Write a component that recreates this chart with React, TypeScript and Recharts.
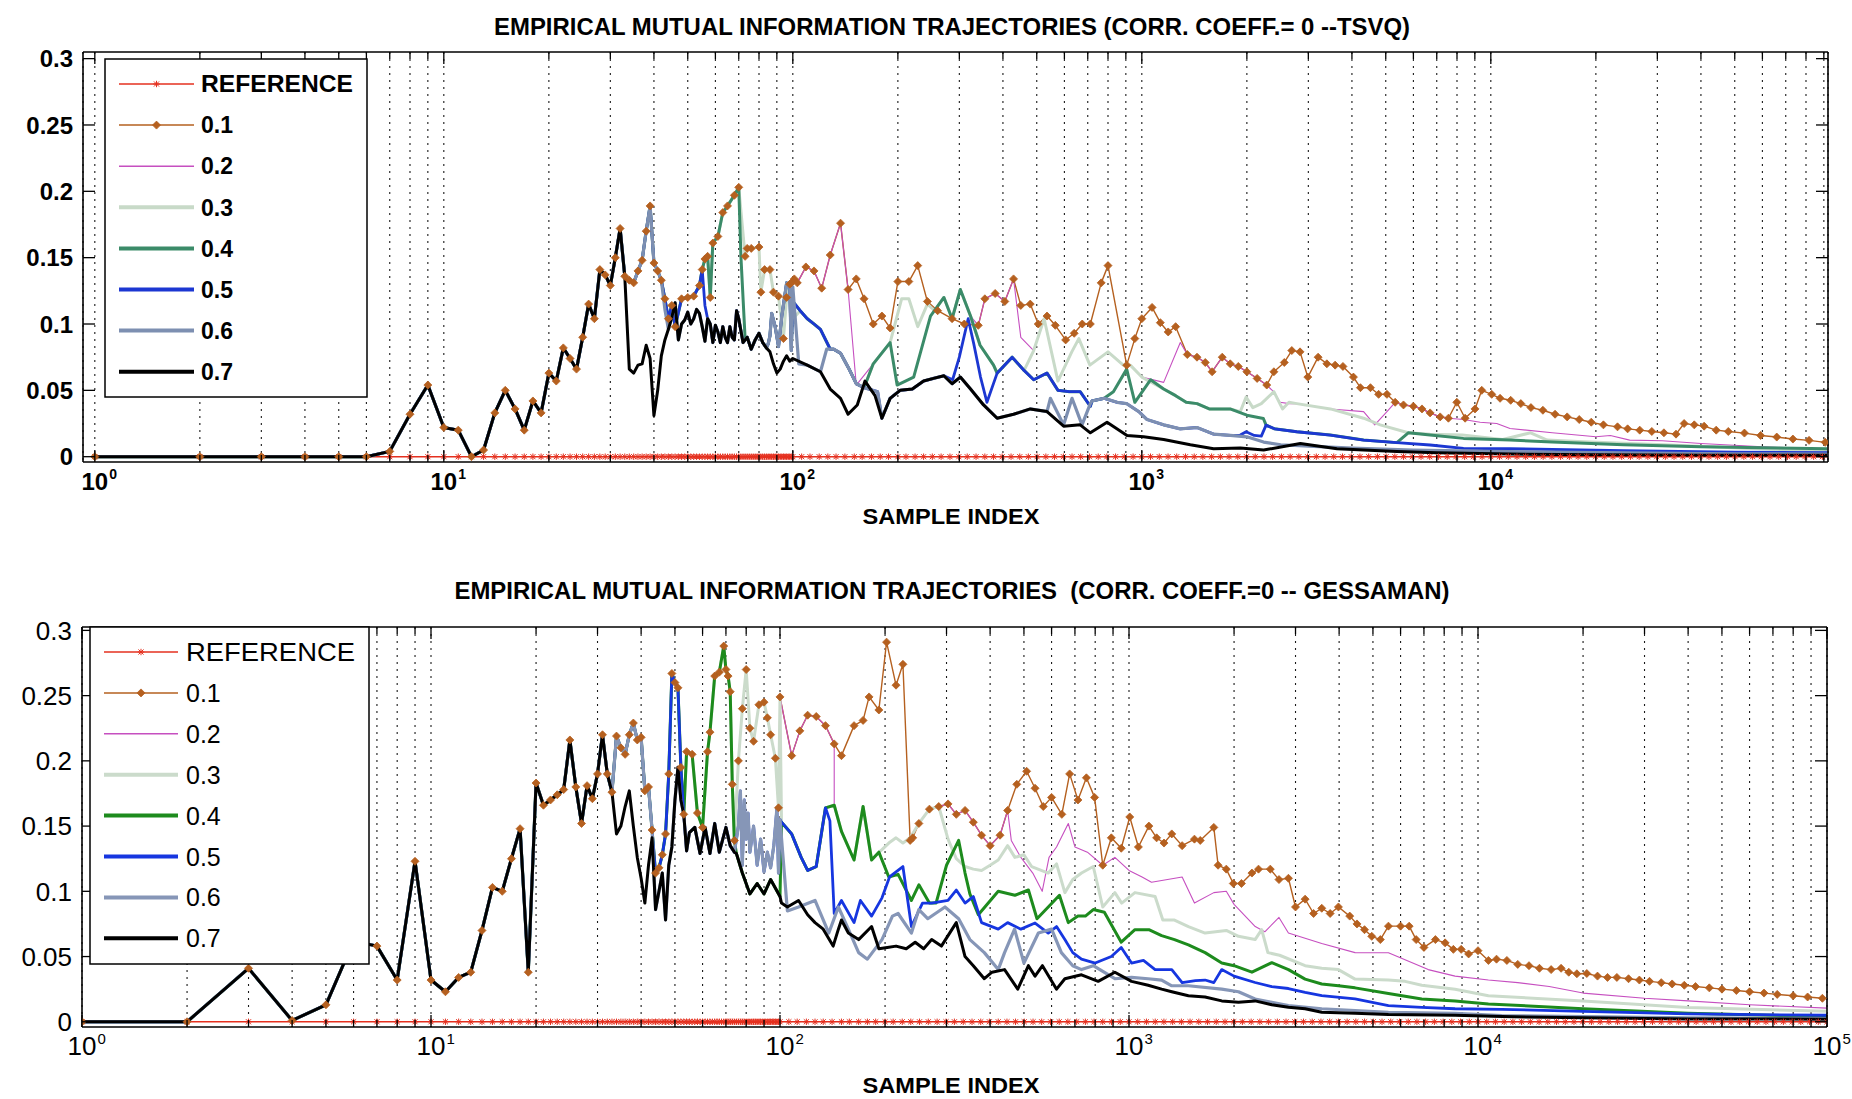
import React from 'react';
import { LineChart, Line, XAxis, YAxis, CartesianGrid } from 'recharts';

type P = [number, number];

const W = 1852;
const FONT = '"Liberation Sans", Arial, Helvetica, sans-serif';

// ---------- shared axis data ----------
const X_TICKS: number[] = [
  1, 2, 3, 4, 5, 6, 7, 8, 9,
  10, 20, 30, 40, 50, 60, 70, 80, 90,
  100, 200, 300, 400, 500, 600, 700, 800, 900,
  1000, 2000, 3000, 4000, 5000, 6000, 7000, 8000, 9000,
  10000, 20000, 30000, 40000, 50000, 60000, 70000, 80000, 90000,
  100000,
];
const Y_TICKS = [0, 0.05, 0.1, 0.15, 0.2, 0.25, 0.3];
const Y_LABELS = ['0', '0.05', '0.1', '0.15', '0.2', '0.25', '0.3'];
const LEGEND_NAMES = ['REFERENCE', '0.1', '0.2', '0.3', '0.4', '0.5', '0.6', '0.7'];

// sample indices of the reference (independent) trajectory, whose value is 0
const REF_X: number[] = [
  1, 2, 3, 4, 5, 6, 7, 8, 9, 10, 11, 12, 13, 14, 15, 16, 17, 18, 19, 20,
  21, 22, 23, 24, 25, 26, 27, 28, 29, 30, 31, 32, 33, 34, 35, 36, 37, 38, 39, 40,
  41, 42, 43, 44, 45, 46, 47, 48, 49, 50, 51, 52, 53, 54, 55, 56, 57, 58, 59, 60,
  61, 62, 63, 64, 65, 66, 67, 68, 69, 70, 71, 72, 73, 74, 75, 76, 77, 78, 79, 80,
  81, 82, 83, 84, 85, 86, 87, 88, 89, 90, 91, 92, 93, 94, 95, 96, 97, 98, 99, 100,
  106, 112, 119, 126, 133, 141, 150, 158, 168, 178, 188, 200, 211, 224, 237, 251, 266, 282, 299, 316,
  335, 355, 376, 398, 422, 447, 473, 501, 531, 562, 596, 631, 668, 708, 750, 794, 841, 891, 944,
  1000, 1059, 1122, 1189, 1259, 1334, 1413, 1496, 1585, 1679, 1778, 1884, 1995, 2113, 2239, 2371, 2512, 2661, 2818, 2985,
  3162, 3350, 3548, 3758, 3981, 4217, 4467, 4732, 5012, 5309, 5623, 5957, 6310, 6683, 7079, 7499, 7943, 8414, 8913, 9441,
  10000, 10593, 11220, 11885, 12589, 13335, 14125, 14962, 15849, 16788, 17783, 18836, 19953, 21135, 22387, 23714, 25119, 26607, 28184, 29854,
  31623, 33497, 35481, 37584, 39811, 42170, 44668, 47315, 50119, 53088, 56234, 59566, 63096, 66834, 70795, 74989, 79433, 84140, 89125, 94406, 100000,
];
const REF_VALUE = 0;

// ---------- TOP PANEL (TSVQ) trajectory segments ----------
const T_COMMON: P[] = [[1,0],[2,0],[3,0],[4,0],[5,0],[6,0],[7,0.004],[8,0.032],[9,0.054],[10,0.022],[11,0.02],[12,0],[13,0.005],[14,0.033],[15,0.05],[16,0.036],[17,0.02],[18,0.042],[19,0.033],[20,0.063],[21,0.057],[22,0.082],[23,0.074],[24,0.066],[25,0.09],[26,0.115],[27,0.104],[28,0.141],[29,0.137],[30,0.129],[31,0.15],[32,0.172],[33,0.136]];
const T_K1: P[] = [[34,0.066],[35,0.063],[36,0.069],[37,0.07],[38,0.084],[39,0.074],[40,0.031],[41,0.05],[42,0.076],[43,0.088]];
const T_K2: P[] = [[44,0.096],[45,0.105],[46,0.116],[47,0.088],[48,0.1],[49,0.103],[50,0.109],[51,0.1],[52,0.104],[53,0.111],[54,0.108],[55,0.098],[56,0.087]];
const T_K3A: P[] = [[57,0.104],[58,0.1],[59,0.086],[60,0.099],[61,0.094],[62,0.086],[63,0.098],[64,0.09],[65,0.086],[66,0.098],[67,0.09],[68,0.088],[69,0.11],[70,0.104],[72,0.086]];
const T_K3B: P[] = [[74,0.09],[76,0.081],[78,0.088],[80,0.093],[82,0.086],[84,0.082]];
const T_K4: P[] = [[86,0.079],[88,0.07],[90,0.063],[92,0.066],[94,0.072],[96,0.076],[98,0.072],[100,0.074]];
const T_K5: P[] = [[110,0.069],[120,0.064],[128,0.051],[137,0.044],[144,0.032],[153,0.039],[161,0.057],[172,0.046]];
const T_K6A: P[] = [[180,0.029],[190,0.044],[203,0.05],[220,0.051],[237,0.057],[253,0.059],[271,0.061]];
const T_K6B: P[] = [[286,0.055],[302,0.06],[323,0.051],[352,0.039],[385,0.029],[429,0.032],[479,0.036],[535,0.034]];
const T_K7: P[] = [[597,0.023],[666,0.024],[712,0.018],[795,0.026],[907,0.016],[1012,0.015],[1155,0.013],[1377,0.009],[1606,0.006],[1915,0.0065],[2234,0.005],[2846,0.01],[3624,0.006],[4322,0.005],[5387,0.004],[7000,0.003],[11370,0.002],[20000,0.0015],[40000,0.001],[92000,0.001]];
const T_G6A: P[] = [[34,0.133],[35,0.131],[36,0.14],[37,0.148],[38,0.17],[39,0.189],[40,0.146],[41,0.14],[42,0.133]];
const T_G6A2: P[] = [[43,0.111]];
const T_G6B: P[] = [[85,0.085],[86,0.091],[87,0.108],[89,0.098],[91,0.083],[93,0.106],[96,0.131],[98,0.127],[99,0.08]];
const T_G6B2: P[] = [[100,0.128]];
const T_G6C: P[] = [[104,0.07],[110,0.069],[120,0.064],[125,0.081]];
const T_GP: P[] = [[131,0.081],[137,0.078],[145,0.066],[152,0.055],[160,0.052]];
const T_GP2: P[] = [[175,0.049]];
const T_G6W: P[] = [[547,0.044],[597,0.024],[631,0.044],[674,0.024],[712,0.04]];
const T_G6TA: P[] = [[720,0.042],[780,0.044]];
const T_G6TB: P[] = [[850,0.041],[905,0.04],[980,0.034],[1035,0.028],[1155,0.024],[1289,0.021],[1439,0.022],[1606,0.017],[1792,0.016]];
const T_G6U: P[] = [[2000,0.015],[2233,0.011],[2500,0.009],[3000,0.008],[4000,0.0065],[6000,0.005],[10000,0.004],[20000,0.003],[50000,0.0022],[92000,0.002]];
const T_B5A: P[] = [[43,0.119],[44,0.104],[45,0.114],[46,0.098],[48,0.119],[50,0.12],[52,0.121],[54,0.129],[55,0.141]];
const T_B5A2: P[] = [[56,0.114]];
const T_B5_100: P[] = [[100,0.117]];
const T_B5B: P[] = [[105,0.11],[110,0.104],[115,0.1],[120,0.096],[128,0.081]];
const T_B5CA: P[] = [[287,0.058],[300,0.075],[318,0.104],[330,0.085],[345,0.06],[360,0.041],[385,0.063]];
const T_B5CB: P[] = [[425,0.075],[460,0.065]];
const T_B5CC: P[] = [[490,0.058],[535,0.063],[575,0.05],[620,0.049],[666,0.049],[712,0.038]];
const T_B5DA: P[] = [[1915,0.0163],[1990,0.0188],[2100,0.016],[2200,0.0155]];
const T_B5DB: P[] = [[2270,0.0238],[2400,0.021],[2780,0.0188],[3470,0.0163],[4320,0.0125],[5380,0.0106]];
const T_B5DC: P[] = [[6700,0.0088],[8350,0.0063],[11350,0.006],[24000,0.0045],[50000,0.0035],[92000,0.003]];
const T_G4A: P[] = [[56,0.149],[57,0.151],[58,0.12],[59,0.161],[61,0.166],[63,0.184],[65,0.189],[68,0.197],[70,0.203]];
const T_G4A2: P[] = [[71,0.151],[73,0.089]];
const T_G4B: P[] = [[170,0.07],[190,0.086]];
const T_G4B2: P[] = [[199,0.054],[222,0.06],[248,0.106]];
const T_G4CA: P[] = [[271,0.12],[286,0.104],[302,0.126],[323,0.106]];
const T_G4CB: P[] = [[344,0.084],[376,0.069],[385,0.063]];
const T_G4D: P[] = [[829,0.049],[905,0.066],[955,0.041],[1060,0.058]];
const T_G4E: P[] = [[1155,0.051],[1250,0.046],[1340,0.041],[1440,0.04],[1560,0.036],[1790,0.036]];
const T_G4F: P[] = [[2000,0.0313],[2230,0.0288]];
const T_G4G: P[] = [[5800,0.018],[6700,0.0163],[8350,0.0138],[11350,0.0125],[15000,0.011],[24000,0.009],[40000,0.0075],[92000,0.006]];
const T_L3A: P[] = [[73,0.151],[74,0.157],[76,0.157],[80,0.158],[81,0.124],[83,0.141],[86,0.141],[88,0.124],[91,0.121],[94,0.089],[96,0.12],[98,0.13]];
const T_L3A2: P[] = [[100,0.104]];
const T_L3B: P[] = [[205,0.119],[215,0.119],[228,0.098],[243,0.115],[255,0.11]];
const T_L3C: P[] = [[490,0.08],[525,0.104],[575,0.057],[630,0.079],[660,0.089],[710,0.069],[800,0.079],[885,0.069],[927,0.069],[1000,0.06]];
const T_L3DA: P[] = [[1915,0.034],[1990,0.045],[2080,0.037],[2200,0.04],[2390,0.049],[2530,0.036],[2640,0.041]];
const T_L3DB: P[] = [[2780,0.04],[3470,0.036]];
const T_L3DC: P[] = [[4320,0.029],[4820,0.024],[5800,0.018],[6700,0.017],[8280,0.0163],[10810,0.013],[13000,0.018],[14500,0.0125],[18400,0.0113],[31330,0.009],[53300,0.0063],[92000,0.0043]];
const T_M2A: P[] = [[99,0.131],[101,0.134],[103,0.131],[109,0.143],[115,0.14],[121,0.127],[128,0.152],[137,0.176],[144,0.126]];
const T_M2A2: P[] = [[152,0.054]];
const T_M2B: P[] = [[340,0.099],[355,0.119],[380,0.123],[405,0.117],[429,0.134]];
const T_M2B2: P[] = [[450,0.09]];
const T_M2C: P[] = [[1155,0.056],[1289,0.086]];
const T_MB1: P[] = [[1350,0.077],[1439,0.075],[1520,0.071],[1590,0.064],[1700,0.075],[1792,0.07],[1890,0.068],[2000,0.064],[2140,0.059],[2280,0.054]];
const T_M2D: P[] = [[2390,0.0488],[2490,0.041],[2640,0.04]];
const T_M2E: P[] = [[4320,0.034],[4650,0.024],[5040,0.034]];
const T_MB2: P[] = [[5320,0.041],[5620,0.039],[6000,0.038],[6350,0.036],[6700,0.033],[7160,0.03],[7560,0.029]];
const T_M2F: P[] = [[8350,0.028],[9320,0.026],[10400,0.025],[11350,0.0213],[15000,0.018],[20000,0.015],[22000,0.016],[25000,0.0125],[31000,0.012],[40000,0.01],[60000,0.0075],[92000,0.0055]];
const T_BR1: P[] = [[152,0.134],[160,0.119],[170,0.1],[180,0.106],[190,0.097],[200,0.132],[215,0.132],[228,0.144],[243,0.117],[260,0.11],[286,0.104],[310,0.1]];
const T_BR2: P[] = [[450,0.114],[479,0.115],[505,0.1],[535,0.106],[565,0.099],[605,0.088],[640,0.093],[675,0.1],[712,0.1],[765,0.131],[800,0.144],[905,0.069],[955,0.089],[1000,0.104],[1070,0.1125],[1130,0.101],[1190,0.094],[1250,0.098]];
const T_BR3: P[] = [[2390,0.064],[2560,0.071],[2690,0.08],[2840,0.079],[2990,0.06],[3200,0.075],[3390,0.07],[3580,0.069],[3770,0.068],[4040,0.06],[4230,0.052],[4520,0.052],[4770,0.047],[5040,0.047]];
const T_BR4: P[] = [[7990,0.041],[8440,0.029],[9010,0.036],[9420,0.05],[10060,0.047],[10630,0.044],[11400,0.0425],[12190,0.04],[13030,0.037],[14100,0.035],[15280,0.032],[16550,0.03],[17920,0.028],[19400,0.026],[21020,0.024],[23070,0.0225],[24660,0.021],[26710,0.02],[28930,0.019],[31330,0.018],[33930,0.017],[35800,0.025],[38280,0.024],[40850,0.023],[44240,0.02],[47910,0.019],[53300,0.0178],[59300,0.016],[65960,0.0148],[73380,0.0133],[81630,0.0123],[90810,0.0108]];

const TOP_TRAJ: P[][][] = [
  [T_COMMON, T_G6A, T_B5A, T_G4A, T_L3A, T_M2A, T_BR1, T_M2B, T_BR2, T_MB1, T_BR3, T_MB2, T_BR4],
  [T_COMMON, T_G6A, T_B5A, T_G4A, T_L3A, T_M2A, T_M2A2, T_G4B, T_L3B, T_G4CA, T_M2B, T_M2B2, T_L3C, T_M2C, T_MB1, T_M2D, T_L3DB, T_M2E, T_MB2, T_M2F],
  [T_COMMON, T_G6A, T_B5A, T_G4A, T_L3A, T_L3A2, T_B5B, T_GP, T_G4B, T_L3B, T_G4CA, T_G4CB, T_B5CB, T_L3C, T_G4E, T_L3DA, T_L3DB, T_L3DC],
  [T_COMMON, T_G6A, T_B5A, T_G4A, T_G4A2, T_K3B, T_G6B, T_B5_100, T_B5B, T_GP, T_G4B, T_G4B2, T_G4CA, T_G4CB, T_B5CB, T_B5CC, T_G6TA, T_G4D, T_G4E, T_G4F, T_B5DB, T_G4G],
  [T_COMMON, T_G6A, T_B5A, T_B5A2, T_K3A, T_K3B, T_G6B, T_B5_100, T_B5B, T_GP, T_GP2, T_K6A, T_B5CA, T_B5CB, T_B5CC, T_G6TA, T_G6TB, T_B5DA, T_B5DB, T_B5DC],
  [T_COMMON, T_G6A, T_G6A2, T_K2, T_K3A, T_K3B, T_G6B, T_G6B2, T_G6C, T_GP, T_GP2, T_K6A, T_K6B, T_G6W, T_G6TA, T_G6TB, T_G6U],
  [T_COMMON, T_K1, T_K2, T_K3A, T_K3B, T_K4, T_K5, T_K6A, T_K6B, T_K7],
];

// ---------- BOTTOM PANEL (GESSAMAN) trajectory segments ----------
const B_COMMON: P[] = [[1,0],[2,0],[3,0.041],[4,0.001],[5,0.013],[6,0.062],[7,0.058],[8,0.032],[9,0.123],[10,0.032],[11,0.023],[12,0.034],[13,0.038],[14,0.07],[15,0.103],[16,0.1],[17,0.125],[18,0.148],[19,0.038],[20,0.183],[21,0.166],[22,0.17],[23,0.174],[24,0.178],[25,0.216],[26,0.18],[27,0.152],[28,0.181],[29,0.171],[30,0.19],[31,0.22],[32,0.19],[33,0.176]];
const B_K1A: P[] = [[34,0.144],[35,0.15],[36,0.165],[37,0.177],[38,0.15],[39,0.126],[40,0.11],[41,0.091],[42,0.12],[43,0.141]];
const B_K1B: P[] = [[44,0.086],[45,0.1],[46,0.114],[47,0.078],[48,0.12],[49,0.134],[50,0.17],[51,0.195],[52,0.17],[53,0.159]];
const B_K1C: P[] = [[54,0.131],[55,0.145],[57,0.149],[59,0.129],[61,0.149],[63,0.129],[65,0.152],[67,0.13],[70,0.149],[72,0.135],[74,0.13]];
const B_K1D: P[] = [[75,0.129],[78,0.114],[82,0.098],[86,0.106],[90,0.098],[94,0.109],[100,0.096]];
const B_K2: P[] = [[101,0.091],[105,0.088],[113,0.093],[120,0.082],[126,0.076],[133,0.071],[142,0.058],[147,0.071],[150,0.078],[157,0.068],[168,0.063],[183,0.073],[192,0.056],[203,0.057],[215,0.058],[230,0.056],[244,0.061],[258,0.056],[272,0.063],[290,0.058],[320,0.076],[339,0.05],[358,0.043],[385,0.033],[405,0.038],[440,0.04],[480,0.025],[515,0.043],[538,0.035],[565,0.043],[620,0.025],[655,0.033],[731,0.036],[816,0.031],[911,0.038],[1017,0.031],[1135,0.028],[1240,0.025],[1326,0.023],[1480,0.02],[1652,0.019],[1844,0.016],[2059,0.015],[2298,0.016],[2565,0.013],[2863,0.0112],[3196,0.01],[3567,0.0073],[4444,0.0065],[5538,0.0055],[8596,0.005],[11700,0.004],[20000,0.003],[40000,0.0022],[100000,0.002]];
const B_G6A: P[] = [[34,0.219],[35,0.21],[36,0.205],[37,0.22],[38,0.229],[39,0.216],[40,0.218],[41,0.177],[42,0.18],[43,0.147]];
const B_G6B: P[] = [[76,0.15],[77,0.177],[78,0.12],[79,0.17],[80,0.14],[81,0.16],[82,0.13],[84,0.15],[86,0.12],[88,0.14],[90,0.115],[92,0.13],[94,0.118],[96,0.135],[98,0.164],[99,0.114],[100,0.155]];
const B_G6C: P[] = [[105,0.085],[113,0.088],[126,0.093],[138,0.068],[147,0.088],[157,0.071],[168,0.053],[178,0.048],[196,0.063],[210,0.081],[218,0.083],[238,0.068],[250,0.086],[265,0.079],[297,0.088],[325,0.079],[350,0.063],[385,0.053],[422,0.04],[440,0.053],[470,0.071],[500,0.045],[550,0.068],[600,0.071],[640,0.053],[690,0.043],[731,0.04],[790,0.043],[911,0.033],[1017,0.034],[1135,0.033],[1240,0.032],[1326,0.0276],[1480,0.0276],[1844,0.025],[2059,0.023],[2298,0.0175],[2565,0.015],[2863,0.0124],[3567,0.01],[5538,0.0073],[8596,0.0065],[11700,0.0048],[20000,0.004],[40000,0.003],[100000,0.0025]];
const B_B5A: P[] = [[44,0.114],[45,0.118],[46,0.128],[47,0.144],[48,0.19],[49,0.267],[50,0.26],[51,0.256],[52,0.195],[53,0.159]];
const B_B5BH: P[] = [[101,0.153],[108,0.144],[115,0.126],[120,0.116],[127,0.119],[135,0.164]];
const B_B5BT: P[] = [[139,0.154],[143,0.083],[150,0.093],[163,0.076],[170,0.093],[183,0.081],[196,0.095],[206,0.111],[225,0.119],[238,0.073],[256,0.091],[272,0.091],[303,0.093],[320,0.101],[339,0.091],[358,0.096],[378,0.076],[422,0.071],[449,0.076],[490,0.071],[538,0.0757],[587,0.068],[620,0.073],[655,0.063],[690,0.053],[731,0.048],[800,0.045],[890,0.05],[950,0.057],[1017,0.045],[1100,0.047],[1188,0.04],[1326,0.04],[1420,0.03],[1550,0.0315],[1652,0.032],[1750,0.03],[1844,0.04],[2000,0.035],[2298,0.0301],[2565,0.027],[2863,0.0255],[3196,0.0226],[3567,0.02],[4444,0.0175],[5538,0.0124],[6900,0.011],[8596,0.01],[11700,0.0095],[20000,0.008],[40000,0.006],[100000,0.005]];
const B_G4A: P[] = [[54,0.207],[56,0.205],[58,0.16],[60,0.149],[62,0.207],[63,0.222],[65,0.265],[67,0.268],[69,0.288],[70,0.27],[71,0.265],[72,0.253],[73,0.182],[74,0.139]];
const B_G4BH: P[] = [[143,0.166],[150,0.146],[163,0.124],[173,0.165],[183,0.124],[192,0.13]];
const B_G4BT: P[] = [[205,0.111],[218,0.113],[238,0.093],[250,0.105],[268,0.091],[280,0.091],[300,0.12],[325,0.139],[339,0.114],[350,0.098],[370,0.082],[422,0.1],[471,0.097],[515,0.101],[545,0.079],[587,0.088],[632,0.097],[670,0.076],[714,0.081],[750,0.081],[790,0.086],[850,0.084],[950,0.061],[1040,0.0706],[1140,0.0706],[1240,0.066],[1350,0.063],[1480,0.059],[1652,0.053],[1844,0.045],[2000,0.043],[2250,0.038],[2565,0.0453],[2863,0.04],[3196,0.0327],[3567,0.029],[3982,0.0276],[4444,0.026],[5538,0.0216],[6900,0.0175],[8596,0.016],[10711,0.0137],[20000,0.01],[40000,0.0065],[100000,0.004]];
const B_L3A: P[] = [[76,0.2],[78,0.24],[80,0.27],[82,0.225],[84,0.215],[87,0.243],[90,0.245],[92,0.233],[94,0.22],[97,0.202],[99,0.164],[100,0.249]];
const B_L3B: P[] = [[196,0.132],[205,0.137],[215,0.141],[225,0.137],[236,0.141]];
const B_LM: P[] = [[250,0.152],[268,0.163],[285,0.165]];
const B_L3C: P[] = [[303,0.14],[320,0.125],[339,0.119],[358,0.117],[378,0.116],[400,0.12],[422,0.124],[449,0.135],[471,0.126],[500,0.128],[526,0.119],[587,0.114],[620,0.121],[655,0.099],[690,0.109],[731,0.114],[790,0.119],[841,0.088],[911,0.099],[953,0.091],[1040,0.099],[1188,0.096],[1250,0.078],[1350,0.078],[1480,0.073],[1652,0.068],[1900,0.07],[2059,0.0655],[2298,0.063],[2400,0.0706],[2500,0.053],[2700,0.051],[3196,0.043],[3567,0.041],[3982,0.04],[4444,0.0327],[5538,0.032],[6181,0.031],[6900,0.028],[8596,0.025],[10711,0.02],[20000,0.016],[40000,0.011],[100000,0.008]];
const B_M2A: P[] = [[108,0.204],[114,0.223],[120,0.235],[127,0.234],[135,0.227],[143,0.213]];
const B_MB: P[] = [[303,0.167],[320,0.159],[339,0.162],[358,0.153],[378,0.143],[400,0.135],[427,0.143],[449,0.162]];
const B_M2C: P[] = [[460,0.139],[490,0.126],[530,0.114],[564,0.1],[590,0.126],[620,0.134],[670,0.152],[700,0.134],[760,0.13],[841,0.12],[911,0.126],[1000,0.116],[1090,0.111],[1160,0.107],[1420,0.111],[1540,0.091],[1750,0.099],[1900,0.1],[2000,0.09],[2300,0.073],[2450,0.069],[2690,0.08],[2863,0.068],[3567,0.06],[4444,0.053],[5538,0.0529],[7200,0.04],[8596,0.035],[10711,0.032],[13000,0.03],[16000,0.027],[20000,0.022],[30000,0.018],[40000,0.016],[60000,0.013],[100000,0.0105]];
const B_BR1: P[] = [[150,0.204],[163,0.227],[173,0.231],[180,0.249],[192,0.239],[202,0.291],[215,0.258],[225,0.274],[236,0.139],[240,0.141]];
const B_BR2: P[] = [[477,0.182],[509,0.192],[538,0.179],[568,0.165],[600,0.172],[642,0.159],[676,0.19],[714,0.17],[755,0.187],[797,0.172],[841,0.12],[890,0.141],[950,0.133],[1005,0.157],[1064,0.134],[1140,0.15],[1200,0.141],[1260,0.137],[1326,0.144],[1420,0.135],[1540,0.14],[1600,0.139],[1750,0.149],[1800,0.12],[1900,0.117],[1990,0.106],[2100,0.106],[2250,0.114],[2350,0.117],[2540,0.117],[2690,0.109],[2863,0.11],[3000,0.088],[3196,0.094],[3380,0.083],[3567,0.087],[3770,0.083],[3982,0.088],[4290,0.081],[4500,0.075],[4730,0.0706],[4961,0.0655],[5250,0.063],[5538,0.0733],[6000,0.0733],[6350,0.0733],[6650,0.063],[7000,0.057],[7550,0.063],[8050,0.0605],[8500,0.0555],[8950,0.0555],[9400,0.052],[10000,0.0545],[10711,0.047],[11300,0.048],[12100,0.047],[13000,0.044],[14000,0.043],[15000,0.041],[16200,0.04],[17300,0.041],[18200,0.038],[19200,0.0368],[20500,0.037],[22000,0.035],[23500,0.034],[25000,0.034],[27000,0.033],[29000,0.032],[31000,0.031],[33500,0.03],[36000,0.029],[39000,0.028],[42000,0.027],[46000,0.026],[50000,0.025],[55000,0.024],[60000,0.023],[66000,0.022],[72000,0.021],[80000,0.02],[88000,0.019],[97000,0.018]];

const BOT_TRAJ: P[][][] = [
  [B_COMMON, B_G6A, B_B5A, B_G4A, B_L3A, B_M2A, B_BR1, B_LM, B_MB, B_BR2],
  [B_COMMON, B_G6A, B_B5A, B_G4A, B_L3A, B_M2A, B_G4BH, B_L3B, B_LM, B_MB, B_M2C],
  [B_COMMON, B_G6A, B_B5A, B_G4A, B_L3A, B_B5BH, B_G4BH, B_L3B, B_LM, B_L3C],
  [B_COMMON, B_G6A, B_B5A, B_G4A, B_K1D, B_B5BH, B_G4BH, B_G4BT],
  [B_COMMON, B_G6A, B_B5A, B_K1C, B_G6B, B_B5BH, B_B5BT],
  [B_COMMON, B_G6A, B_K1B, B_K1C, B_G6B, B_G6C],
  [B_COMMON, B_K1A, B_K1B, B_K1C, B_K1D, B_K2],
];

// ---------- styles ----------
const TOP_COLORS = ['#e5301f', '#b5601f', '#c64fc0', '#c8dac8', '#3b8b69', '#1c37d2', '#7d8fb1', '#000000'];
const BOT_COLORS = ['#e5301f', '#b5601f', '#c64fc0', '#cbdbcb', '#1d8b1d', '#1636e0', '#8696b7', '#000000'];
const WIDTHS = [1.6, 1.4, 1.1, 3, 3, 2.8, 3.2, 3];
const LEGEND_WIDTHS = [1.5, 1.5, 1.5, 4, 4, 4, 4, 4];

type Pt = { x: number; y: number };
const toPts = (segs: P[][]): Pt[] => segs.flat().map(([x, y]) => ({ x, y }));
const REF_PTS: Pt[] = REF_X.map((x) => ({ x, y: REF_VALUE }));

const isMajor = (v: number) => Math.abs(Math.log10(v) - Math.round(Math.log10(v))) < 1e-9;

function Star({ cx, cy, color, s = 3.2 }: { cx: number; cy: number; color: string; s?: number }) {
  const d = s * 0.8;
  return (
    <g stroke={color} strokeWidth={1}>
      <line x1={cx - s} y1={cy} x2={cx + s} y2={cy} />
      <line x1={cx - d} y1={cy - d} x2={cx + d} y2={cy + d} />
      <line x1={cx - d} y1={cy + d} x2={cx + d} y2={cy - d} />
      <line x1={cx} y1={cy - s} x2={cx} y2={cy + s} />
    </g>
  );
}
function Diamond({ cx, cy, color, s = 4 }: { cx: number; cy: number; color: string; s?: number }) {
  return <path d={`M${cx},${cy - s}L${cx + s},${cy}L${cx},${cy + s}L${cx - s},${cy}Z`} fill={color} stroke={color} strokeWidth={0.8} />;
}

type TickFont = { size: number; weight: string; expSize: number };

function makeBottomTick(font: TickFont) {
  return (props: any) => {
    const { x, y, payload } = props;
    const v = payload.value as number;
    const major = isMajor(v);
    const exp = Math.round(Math.log10(v));
    const half = font.size * 0.556;
    return (
      <g>
        <line x1={x} x2={x} y1={y} y2={y - (major ? 12 : 7)} stroke="#000" strokeWidth={1.3} />
        {major && (
          <g fontFamily={FONT} fill="#000" fontWeight={font.weight}>
            <text x={x} y={y + 28} textAnchor="middle" fontSize={font.size}>10</text>
            <text x={x + half + 1} y={y + 17} textAnchor="start" fontSize={font.expSize}>{exp}</text>
          </g>
        )}
      </g>
    );
  };
}
const TopTick = (props: any) => {
  const { x, y, payload } = props;
  const major = isMajor(payload.value);
  return <line x1={x} x2={x} y1={y} y2={y + (major ? 12 : 7)} stroke="#000" strokeWidth={1.3} />;
};
function makeLeftTick(font: TickFont) {
  return (props: any) => {
    const { x, y, payload, index } = props;
    const i = Y_TICKS.indexOf(payload.value);
    return (
      <g>
        <line x1={x} x2={x + 12} y1={y} y2={y} stroke="#000" strokeWidth={1.3} />
        <text x={x - 10} y={y} dy="0.36em" textAnchor="end" fontFamily={FONT} fontSize={font.size} fontWeight={font.weight} fill="#000">
          {Y_LABELS[i >= 0 ? i : index]}
        </text>
      </g>
    );
  };
}
const RightTick = (props: any) => {
  const { x, y } = props;
  return <line x1={x} x2={x - 12} y1={y} y2={y} stroke="#000" strokeWidth={1.3} />;
};

const AXIS_LINE = { stroke: '#000', strokeWidth: 1.6 };

type SeriesDef = { name: string; color: string; width: number; marker: 'star' | 'diamond' | null; data: Pt[] };

function buildSeries(traj: P[][][], colors: string[]): SeriesDef[] {
  const out: SeriesDef[] = [{ name: LEGEND_NAMES[0], color: colors[0], width: WIDTHS[0], marker: 'star', data: REF_PTS }];
  traj.forEach((segs, i) => {
    out.push({ name: LEGEND_NAMES[i + 1], color: colors[i + 1], width: WIDTHS[i + 1], marker: i === 0 ? 'diamond' : null, data: toPts(segs) });
  });
  return out;
}

const TOP_SERIES = buildSeries(TOP_TRAJ, TOP_COLORS);
const BOT_SERIES = buildSeries(BOT_TRAJ, BOT_COLORS);

type PanelProps = {
  top: number;
  height: number;
  plot: { left: number; right: number; top: number; bottom: number }; // plot rectangle, panel-local px
  xDomain: [number, number];
  yDomain: [number, number];
  series: SeriesDef[];
  font: TickFont;
};

// each axis takes 1px so that Recharts draws it; the margins are reduced by that pixel
function Panel(p: PanelProps) {
  const ticks = X_TICKS.filter((t) => t >= p.xDomain[0] && t <= p.xDomain[1]);
  const BottomTick = makeBottomTick(p.font);
  const LeftTick = makeLeftTick(p.font);
  const margin = {
    top: p.plot.top - 1,
    bottom: p.height - p.plot.bottom - 1,
    left: p.plot.left - 1,
    right: W - p.plot.right - 1,
  };
  return (
    <div style={{ position: 'absolute', left: 0, top: p.top }}>
      <LineChart width={W} height={p.height} margin={margin}>
        <CartesianGrid horizontal={false} vertical strokeDasharray="2 5" stroke="#1a1a1a" strokeWidth={1.1} />
        <XAxis dataKey="x" type="number" scale="log" domain={p.xDomain} allowDataOverflow ticks={ticks} interval={0}
          height={1} tickSize={0} tickMargin={0} tickLine={false} axisLine={AXIS_LINE} tick={BottomTick} />
        <XAxis xAxisId="top" orientation="top" dataKey="x" type="number" scale="log" domain={p.xDomain} allowDataOverflow ticks={ticks} interval={0}
          height={1} tickSize={0} tickMargin={0} tickLine={false} axisLine={AXIS_LINE} tick={TopTick} />
        <YAxis type="number" domain={p.yDomain} allowDataOverflow ticks={Y_TICKS} interval={0}
          width={1} tickSize={0} tickMargin={0} tickLine={false} axisLine={AXIS_LINE} tick={LeftTick} />
        <YAxis yAxisId="right" orientation="right" type="number" domain={p.yDomain} allowDataOverflow ticks={Y_TICKS} interval={0}
          width={1} tickSize={0} tickMargin={0} tickLine={false} axisLine={AXIS_LINE} tick={RightTick} />
        {p.series.map((s) => (
          <Line
            key={s.name}
            name={s.name}
            data={s.data}
            dataKey="y"
            type="linear"
            stroke={s.color}
            strokeWidth={s.width}
            strokeLinejoin="round"
            isAnimationActive={false}
            activeDot={false}
            legendType="none"
            dot={
              s.marker === 'star'
                ? (d: any) => (d.cx == null ? <g key={d.index} /> : <Star key={d.index} cx={d.cx} cy={d.cy} color={s.color} />)
                : s.marker === 'diamond'
                ? (d: any) => (d.cx == null ? <g key={d.index} /> : <Diamond key={d.index} cx={d.cx} cy={d.cy} color={s.color} />)
                : false
            }
          />
        ))}
      </LineChart>
    </div>
  );
}

type LegendSpec = {
  x: number; y: number; w: number; h: number;
  row0: number; gap: number; lx0: number; lx1: number; tx: number;
  size: number; weight: string; refLen: number; colors: string[];
};

function LegendBox({ L }: { L: LegendSpec }) {
  return (
    <g>
      <rect x={L.x} y={L.y} width={L.w} height={L.h} fill="#fff" stroke="#000" strokeWidth={1.5} />
      {LEGEND_NAMES.map((n, i) => {
        const cy = L.row0 + i * L.gap;
        const mid = (L.lx0 + L.lx1) / 2;
        return (
          <g key={n}>
            <line x1={L.lx0} x2={L.lx1} y1={cy} y2={cy} stroke={L.colors[i]} strokeWidth={LEGEND_WIDTHS[i]} />
            {i === 0 && <Star cx={mid} cy={cy} color={L.colors[0]} />}
            {i === 1 && <Diamond cx={mid} cy={cy} color={L.colors[1]} />}
            <text x={L.tx} y={cy} dy="0.36em" fontFamily={FONT} fontSize={L.size} fontWeight={L.weight} fill="#000"
              {...(i === 0 ? { textLength: L.refLen, lengthAdjust: 'spacingAndGlyphs' } : {})}>
              {n}
            </text>
          </g>
        );
      })}
    </g>
  );
}

const TOP_TITLE = 'EMPIRICAL MUTUAL INFORMATION TRAJECTORIES (CORR. COEFF.= 0 --TSVQ)';
const BOT_TITLE = 'EMPIRICAL MUTUAL INFORMATION TRAJECTORIES  (CORR. COEFF.=0 -- GESSAMAN)';
const X_LABEL = 'SAMPLE INDEX';

export default function App() {
  const topLegend: LegendSpec = { x: 105, y: 59, w: 262, h: 338, row0: 84, gap: 41.1, lx0: 119, lx1: 194, tx: 201, size: 23, weight: 'bold', refLen: 152, colors: TOP_COLORS };
  const botLegend: LegendSpec = { x: 90, y: 627, w: 279, h: 337, row0: 652, gap: 40.9, lx0: 104, lx1: 178, tx: 186, size: 25, weight: 'normal', refLen: 169, colors: BOT_COLORS };
  return (
    <div style={{ position: 'absolute', left: 0, top: 0, width: W, height: 1099, background: '#fff', overflow: 'hidden' }}>
      <Panel top={0} height={549} plot={{ left: 83, right: 1828, top: 52, bottom: 462 }}
        xDomain={[0.925, 92500]} yDomain={[-0.004, 0.305]} series={TOP_SERIES}
        font={{ size: 24, weight: 'bold', expSize: 14 }} />
      <Panel top={549} height={550} plot={{ left: 82, right: 1827, top: 78, bottom: 478 }}
        xDomain={[1, 100000]} yDomain={[-0.004, 0.3026]} series={BOT_SERIES}
        font={{ size: 26, weight: 'normal', expSize: 15 }} />
      <svg width={W} height={1099} style={{ position: 'absolute', left: 0, top: 0, pointerEvents: 'none' }}>
        <text x={952} y={35} textAnchor="middle" fontFamily={FONT} fontSize={23} fontWeight="bold" textLength={916} lengthAdjust="spacingAndGlyphs" style={{ whiteSpace: 'pre' }}>{TOP_TITLE}</text>
        <text x={951} y={524} textAnchor="middle" fontFamily={FONT} fontSize={22} fontWeight="bold" textLength={177} lengthAdjust="spacingAndGlyphs">{X_LABEL}</text>
        <text x={952} y={599} textAnchor="middle" fontFamily={FONT} fontSize={23} fontWeight="bold" textLength={995} lengthAdjust="spacingAndGlyphs" style={{ whiteSpace: 'pre' }}>{BOT_TITLE}</text>
        <text x={951} y={1093} textAnchor="middle" fontFamily={FONT} fontSize={22} fontWeight="bold" textLength={177} lengthAdjust="spacingAndGlyphs">{X_LABEL}</text>
        <LegendBox L={topLegend} />
        <LegendBox L={botLegend} />
      </svg>
    </div>
  );
}
